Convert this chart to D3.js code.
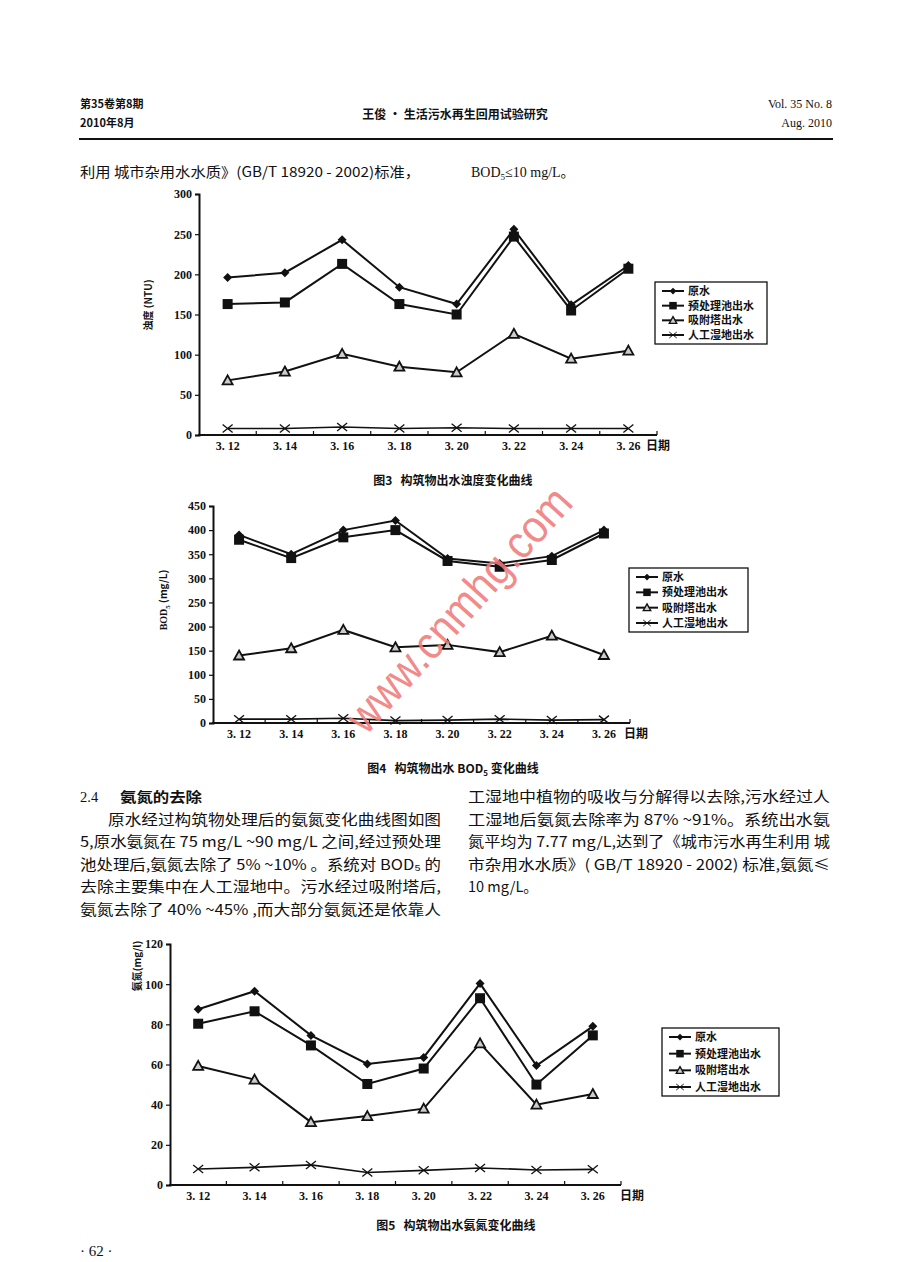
<!DOCTYPE html>
<html>
<head>
<meta charset="utf-8">
<script src="https://cdn.jsdelivr.net/npm/d3@7"></script>
<style>
  body { margin: 0; background: #fff; }
  svg { display: block; }
</style>
</head>
<body>
<script>
// ---- data ----
const dates = ["3. 12", "3. 14", "3. 16", "3. 18", "3. 20", "3. 22", "3. 24", "3. 26"];
const seriesNames = ["原水", "预处理池出水", "吸附塔出水", "人工湿地出水"];

// fig 3 turbidity (NTU)
const turbRaw     = [196, 202, 243, 184, 163, 256, 162, 211];
const turbPre     = [163, 165, 213, 163, 150, 247, 155, 207];
const turbTower   = [68, 79, 101, 85, 78, 126, 95, 105];
const turbWetland = [8, 8, 10, 8, 9, 8, 8, 8];
const turbTicks   = [0, 50, 100, 150, 200, 250, 300];

// fig 4 BOD5 (mg/L)
const bodRaw     = [390, 350, 400, 420, 341, 331, 346, 400];
const bodPre     = [380, 342, 385, 400, 336, 324, 338, 393];
const bodTower   = [140, 155, 193, 157, 162, 147, 181, 141];
const bodWetland = [8, 8, 10, 5, 6, 8, 6, 7];
const bodTicks   = [0, 50, 100, 150, 200, 250, 300, 350, 400, 450];

// fig 5 ammonia nitrogen (mg/l)
const nhRaw     = [87.5, 96.5, 74.5, 60.3, 63.5, 100.3, 59.5, 79];
const nhPre     = [80.3, 86.5, 69.5, 50.3, 58, 93, 50, 74.5];
const nhTower   = [59.3, 52.5, 31.3, 34.3, 38, 70.5, 40, 45.3];
const nhWetland = [8, 8.8, 10, 6.2, 7.3, 8.5, 7.5, 7.8];
const nhTicks   = [0, 20, 40, 60, 80, 100, 120];

const W = 904, H = 1262;
const cjk = "'Noto Sans CJK SC', sans-serif";
const serif = "'Liberation Serif', 'Noto Sans CJK SC', serif";

const svg = d3.select("body").append("svg")
    .attr("width", W)
    .attr("height", H)
    .attr("viewBox", [0, 0, W, H]);

svg.append("rect").attr("width", W).attr("height", H).attr("fill", "#fff");

function txt(x, y, s, opt) {
    opt = opt || {};
    const t = svg.append("text")
        .attr("x", x).attr("y", y)
        .attr("font-family", opt.family || cjk)
        .attr("font-size", opt.size || 14)
        .attr("font-weight", opt.weight || "normal")
        .attr("text-anchor", opt.anchor || "start")
        .attr("fill", opt.fill || "#111")
        .text(s);
    if (opt.len) t.attr("textLength", opt.len).attr("lengthAdjust", "spacingAndGlyphs");
    return t;
}

// ---- page header ----
txt(80, 108, "第35卷第8期", {size: 11, weight: "bold"});
txt(80, 127, "2010年8月", {size: 11, weight: "bold"});
txt(455, 119, "王俊 · 生活污水再生回用试验研究", {size: 12, weight: "bold", anchor: "middle"});
txt(832, 108, "Vol. 35  No. 8", {size: 12, family: serif, anchor: "end"});
txt(832, 127, "Aug. 2010", {size: 12, family: serif, anchor: "end"});
svg.append("line")
    .attr("x1", 79).attr("x2", 833).attr("y1", 139).attr("y2", 139)
    .attr("stroke", "#111").attr("stroke-width", 2);

txt(80, 177, "利用 城市杂用水水质》(GB/T 18920 - 2002)标准，", {size: 14, len: 340});
const bodLine = txt(471, 177, "BOD", {size: 14, family: serif});
bodLine.append("tspan").attr("font-size", 9).attr("dy", 3).text("5");
bodLine.append("tspan").attr("dy", -3).text("≤10 mg/L。");

// ---- body text, section 2.4 ----
const lineY = d3.range(6).map(i => 802 + i * 22.6);
txt(80, lineY[0], "2.4", {size: 14.5, family: serif});
txt(120, lineY[0], "氨氮的去除", {size: 14, weight: "bold", len: 82});

const leftLines = [
    "原水经过构筑物处理后的氨氮变化曲线图如图",
    "5,原水氨氮在 75 mg/L ~90 mg/L 之间,经过预处理",
    "池处理后,氨氮去除了 5% ~10% 。系统对 BOD₅ 的",
    "去除主要集中在人工湿地中。污水经过吸附塔后,",
    "氨氮去除了 40% ~45% ,而大部分氨氮还是依靠人"
];
const rightLines = [
    "工湿地中植物的吸收与分解得以去除,污水经过人",
    "工湿地后氨氮去除率为 87% ~91%。系统出水氨",
    "氮平均为 7.77 mg/L,达到了《城市污水再生利用 城",
    "市杂用水水质》( GB/T 18920 - 2002) 标准,氨氮≤",
    "10 mg/L。"
];
leftLines.forEach((s, i) => {
    if (i === 0) txt(108, lineY[1], s, {size: 14.5, len: 333});
    else txt(80, lineY[i + 1], s, {size: 14.5, len: 361});
});
rightLines.forEach((s, i) => {
    const o = {size: 14.5};
    if (i < rightLines.length - 1) o.len = 362;
    txt(468, lineY[i], s, o);
});

txt(80, 1256, "· 62 ·", {size: 15, family: serif});

// ---- marker shapes ----
function markerPath(kind, g) {
    if (kind === 0) {
        g.append("path").attr("d", "M0,-4.5L4.5,0L0,4.5L-4.5,0Z").attr("fill", "#111");
    } else if (kind === 1) {
        g.append("rect").attr("x", -5).attr("y", -5).attr("width", 10).attr("height", 10)
            .attr("fill", "#111");
    } else if (kind === 2) {
        g.append("path").attr("d", "M0,-5L5,4L-5,4Z")
            .attr("fill", "#ccc").attr("stroke", "#111").attr("stroke-width", 1.8);
    } else {
        g.append("path").attr("d", "M-5,-4L5,4M-5,4L5,-4")
            .attr("fill", "none").attr("stroke", "#111").attr("stroke-width", 1.3);
    }
}

// ---- one chart ----
function drawChart(cfg) {
    const x = d3.scaleBand().domain(dates).range([cfg.left, cfg.right]);
    const y = d3.scaleLinear().domain([0, cfg.max]).range([cfg.bottom, cfg.top]);
    const g = svg.append("g");

    cfg.series.forEach((vals, k) => {
        const line = d3.line()
            .x((d, i) => x(dates[i]) + x.bandwidth() / 2)
            .y(d => y(d));
        g.append("path")
            .datum(vals)
            .attr("fill", "none")
            .attr("stroke", "#111")
            .attr("stroke-width", k === 3 ? 1.6 : 2)
            .attr("d", line);
        vals.forEach((v, i) => {
            const m = g.append("g")
                .attr("transform", `translate(${x(dates[i]) + x.bandwidth() / 2},${y(v)})`);
            markerPath(k, m);
        });
    });

    // y axis
    const yAxis = d3.axisLeft(y).tickValues(cfg.ticks).tickSize(4).tickPadding(3);
    const ya = g.append("g").attr("transform", `translate(${cfg.left},0)`).call(yAxis);
    ya.select(".domain").attr("stroke-width", 2).attr("stroke", "#111");
    ya.selectAll(".tick line").attr("stroke", "#111").attr("stroke-width", 1.2);
    ya.selectAll(".tick text")
        .attr("font-family", serif).attr("font-size", 12).attr("font-weight", "bold")
        .attr("fill", "#111");

    // x axis: labels under bands, ticks at band boundaries pointing up
    const xa = g.append("g").attr("transform", `translate(0,${cfg.bottom})`);
    xa.append("line")
        .attr("x1", cfg.left - 1).attr("x2", cfg.right)
        .attr("stroke", "#111").attr("stroke-width", 2);
    dates.slice(1).forEach(d => {
        xa.append("line")
            .attr("x1", x(d)).attr("x2", x(d)).attr("y1", 0).attr("y2", -4)
            .attr("stroke", "#111").attr("stroke-width", 1.2);
    });
    xa.append("line")
        .attr("x1", cfg.right).attr("x2", cfg.right).attr("y1", 0).attr("y2", -4)
        .attr("stroke", "#111").attr("stroke-width", 1.2);
    dates.forEach(d => {
        xa.append("text")
            .attr("x", x(d) + x.bandwidth() / 2).attr("y", 15)
            .attr("text-anchor", "middle")
            .attr("font-family", serif).attr("font-size", 12).attr("font-weight", "bold")
            .attr("fill", "#111")
            .text(d);
    });
    xa.append("text")
        .attr("x", cfg.dateX).attr("y", 15)
        .attr("font-family", cjk).attr("font-size", 12).attr("font-weight", "bold")
        .attr("fill", "#111")
        .text("日期");

    // y label
    const yl = g.append("text")
        .attr("transform", `translate(${cfg.yLabelX},${cfg.yLabelY}) rotate(-90)`)
        .attr("text-anchor", "middle")
        .attr("font-family", cjk).attr("font-size", 10).attr("font-weight", "bold")
        .attr("fill", "#111");
    cfg.yLabel(yl);

    // caption
    const cap = g.append("text")
        .attr("x", cfg.capX).attr("y", cfg.capY)
        .attr("text-anchor", "middle")
        .attr("font-family", cjk).attr("font-size", 12).attr("font-weight", "bold")
        .attr("fill", "#111");
    cfg.caption(cap);

    // legend
    const L = cfg.legend;
    g.append("rect")
        .attr("x", L.x).attr("y", L.y).attr("width", L.w).attr("height", L.h)
        .attr("fill", "#fff").attr("stroke", "#111").attr("stroke-width", 1.3);
    const step = (L.h - 18) / 3;
    seriesNames.forEach((name, k) => {
        const ry = L.y + 9 + k * step;
        g.append("line")
            .attr("x1", L.x + 7).attr("x2", L.x + 29).attr("y1", ry).attr("y2", ry)
            .attr("stroke", "#111").attr("stroke-width", 2);
        const m = g.append("g").attr("transform", `translate(${L.x + 18},${ry}) scale(0.75)`);
        markerPath(k, m);
        g.append("text")
            .attr("x", L.x + 33).attr("y", ry + 4)
            .attr("font-family", cjk).attr("font-size", 11).attr("font-weight", "bold")
            .attr("fill", "#111")
            .text(name);
    });
}

drawChart({
    left: 199, right: 657, top: 194, bottom: 435, max: 300, ticks: turbTicks,
    series: [turbRaw, turbPre, turbTower, turbWetland],
    dateX: 646,
    yLabelX: 152, yLabelY: 305,
    yLabel: t => t.text("浊度 (NTU)"),
    capX: 453, capY: 485,
    caption: t => t.attr("xml:space", "preserve").text("图3   构筑物出水浊度变化曲线"),
    legend: {x: 655, y: 282, w: 112, h: 62}
});

drawChart({
    left: 213, right: 630, top: 506, bottom: 723, max: 450, ticks: bodTicks,
    series: [bodRaw, bodPre, bodTower, bodWetland],
    dateX: 624,
    yLabelX: 167, yLabelY: 600,
    yLabel: t => {
        t.attr("font-family", serif).text("BOD");
        t.append("tspan").attr("font-size", 7).attr("dy", 3).text("5");
        t.append("tspan").attr("dy", -3).attr("font-family", cjk).text(" (mg/L)");
    },
    capX: 453, capY: 773,
    caption: t => {
        t.attr("xml:space", "preserve").text("图4   构筑物出水 BOD");
        t.append("tspan").attr("font-size", 8).attr("dy", 3).text("5");
        t.append("tspan").attr("dy", -3).text(" 变化曲线");
    },
    legend: {x: 629, y: 568, w: 119, h: 64}
});

drawChart({
    left: 170, right: 621, top: 944, bottom: 1185, max: 120, ticks: nhTicks,
    series: [nhRaw, nhPre, nhTower, nhWetland],
    dateX: 620,
    yLabelX: 141, yLabelY: 966,
    yLabel: t => t.text("氨氮(mg/l)"),
    capX: 456, capY: 1230,
    caption: t => t.attr("xml:space", "preserve").text("图5   构筑物出水氨氮变化曲线"),
    legend: {x: 662, y: 1028, w: 117, h: 68}
});

// ---- watermark ----
svg.append("text")
    .attr("transform", "translate(366,736) rotate(-48)")
    .attr("font-family", "'Liberation Sans', sans-serif")
    .attr("font-size", 46)
    .attr("fill", "#f07a78")
    .attr("fill-opacity", 0.9)
    .attr("textLength", 312)
    .attr("lengthAdjust", "spacingAndGlyphs")
    .text("www.cnmhg.com");
</script>
</body>
</html>
